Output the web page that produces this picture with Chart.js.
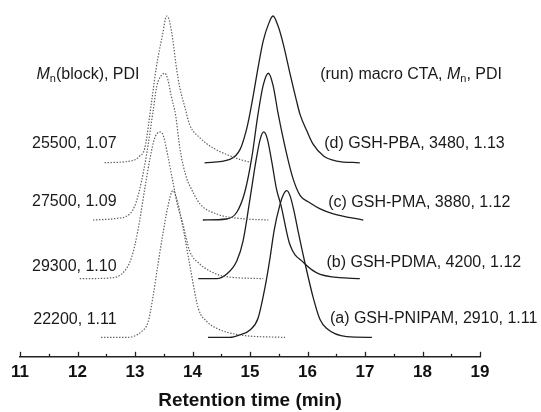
<!DOCTYPE html>
<html lang="en">
<head>
  <meta charset="UTF-8">
  <title>GPC traces</title>
  <script src="https://cdn.jsdelivr.net/npm/chart.js"></script>
  <style>
    html, body { margin: 0; padding: 0; background: #fff; }
    #wrap { width: 541px; height: 412px; }
  </style>
</head>
<body>
  <div id="wrap"><canvas id="gpc" width="541" height="412"></canvas></div>

  <script>
    // retention time (min) and normalised RI signal
    // block copolymers (dotted)
    const blockTimeD = [12.47, 12.97, 13.08, 13.17, 13.29, 13.37, 13.48, 13.55, 13.60, 13.66, 13.72, 13.78, 13.87, 13.95, 14.13, 14.36, 14.59, 14.82, 14.99];
    const blockSigD  = [0, 0.016, 0.045, 0.10, 0.42, 0.65, 0.875, 1.0, 0.966, 0.83, 0.65, 0.51, 0.375, 0.26, 0.17, 0.10, 0.057, 0.023, 0.005];
    const blockTimeC = [12.27, 12.65, 12.91, 13.02, 13.11, 13.20, 13.31, 13.38, 13.46, 13.52, 13.57, 13.63, 13.71, 13.78, 13.90, 13.95, 14.13, 14.42, 14.82, 15.32];
    const blockSigC  = [0, 0.01, 0.041, 0.121, 0.259, 0.443, 0.73, 0.913, 0.986, 1.0, 0.959, 0.844, 0.706, 0.489, 0.282, 0.236, 0.11, 0.041, 0.011, 0];
    const blockTimeB = [12.04, 12.62, 12.82, 12.94, 13.05, 13.17, 13.26, 13.34, 13.43, 13.49, 13.57, 13.66, 13.74, 13.84, 13.95, 14.13, 14.30, 14.53, 15.23];
    const blockSigB  = [0, 0.007, 0.053, 0.144, 0.327, 0.612, 0.818, 0.955, 1.0, 0.977, 0.84, 0.658, 0.50, 0.361, 0.19, 0.099, 0.053, 0.018, 0];
    const blockTimeA = [12.41, 12.85, 13.11, 13.23, 13.31, 13.40, 13.49, 13.56, 13.66, 13.74, 13.85, 13.95, 14.10, 14.25, 14.42, 14.82, 15.61];
    const blockSigA  = [0, 0, 0.039, 0.108, 0.27, 0.50, 0.717, 0.87, 1.0, 0.924, 0.717, 0.50, 0.20, 0.108, 0.062, 0.017, 0];

    // macro CTAs (solid)
    const ctaTimeD = [14.21, 14.65, 14.83, 14.94, 14.99, 15.06, 15.14, 15.23, 15.32, 15.40, 15.49, 15.58, 15.70, 15.81, 15.87, 15.99, 16.10, 16.28, 16.51, 16.91];
    const ctaSigD  = [0, 0.023, 0.093, 0.228, 0.318, 0.466, 0.648, 0.83, 0.943, 1.0, 0.93, 0.807, 0.60, 0.42, 0.33, 0.216, 0.125, 0.046, 0.012, 0];
    const ctaTimeC = [14.18, 14.59, 14.77, 14.91, 15.03, 15.14, 15.23, 15.32, 15.40, 15.49, 15.64, 15.75, 15.87, 16.04, 16.22, 16.45, 16.97];
    const ctaSigC  = [0, 0.007, 0.053, 0.191, 0.423, 0.723, 0.919, 1.0, 0.919, 0.723, 0.446, 0.28, 0.168, 0.118, 0.076, 0.042, 0];
    const ctaTimeB = [14.10, 14.42, 14.59, 14.77, 14.88, 15.00, 15.11, 15.18, 15.24, 15.30, 15.38, 15.46, 15.54, 15.69, 15.93, 16.22, 16.91];
    const ctaSigB  = [0, 0, 0.03, 0.121, 0.258, 0.544, 0.818, 0.955, 1.0, 0.955, 0.795, 0.612, 0.498, 0.236, 0.11, 0.03, 0];
    const ctaTimeA = [14.27, 14.65, 14.82, 15.00, 15.14, 15.26, 15.35, 15.42, 15.52, 15.58, 15.64, 15.70, 15.78, 15.84, 15.96, 16.10, 16.22, 16.33, 16.68, 17.12];
    const ctaSigA  = [0, 0, 0.017, 0.051, 0.131, 0.339, 0.546, 0.73, 0.903, 0.972, 1.0, 0.961, 0.834, 0.717, 0.50, 0.27, 0.12, 0.062, 0.005, 0];

    // vertical stacking of the runs a..d
    const runOffsets = { a: 0, b: 0.4, c: 0.8, d: 1.19 };

    const blockLabels = ['25500, 1.07', '27500, 1.09', '29300, 1.10', '22200, 1.11'];
    const ctaLabels = ['(d) GSH-PBA, 3480, 1.13', '(c) GSH-PMA, 3880, 1.12', '(b) GSH-PDMA, 4200, 1.12', '(a) GSH-PNIPAM, 2910, 1.11'];
    const xTicks = [11, 12, 13, 14, 15, 16, 17, 18, 19];

    function trace(times, sig, off) {
      return times.map((t, i) => ({ x: t, y: sig[i] + off }));
    }

    const dotted = { borderColor: '#5e5e5e', borderWidth: 1.2, borderDash: [1.4, 1.6] };
    const solid = { borderColor: '#1e1e1e', borderWidth: 1.3 };

    const datasets = [
      { data: trace(blockTimeD, blockSigD, runOffsets.d), ...dotted },
      { data: trace(blockTimeC, blockSigC, runOffsets.c), ...dotted },
      { data: trace(blockTimeB, blockSigB, runOffsets.b), ...dotted },
      { data: trace(blockTimeA, blockSigA, runOffsets.a), ...dotted },
      { data: trace(ctaTimeD, ctaSigD, runOffsets.d), ...solid },
      { data: trace(ctaTimeC, ctaSigC, runOffsets.c), ...solid },
      { data: trace(ctaTimeB, ctaSigB, runOffsets.b), ...solid },
      { data: trace(ctaTimeA, ctaSigA, runOffsets.a), ...solid }
    ];

    const FONT = '"Liberation Sans", Arial, sans-serif';

    // draws text made of pieces (normal / italic / subscript), left aligned
    function richText(ctx, parts, x, y) {
      let cx = x;
      parts.forEach(p => {
        if (p.sub) ctx.font = '11px ' + FONT;
        else if (p.it) ctx.font = 'italic 16px ' + FONT;
        else ctx.font = '16px ' + FONT;
        ctx.fillText(p.t, cx, y + (p.sub ? 5 : 0));
        cx += ctx.measureText(p.t).width;
      });
    }

    const annotate = {
      id: 'annotate',
      afterDraw(chart) {
        const ctx = chart.ctx;
        const xs = chart.scales.x, ys = chart.scales.y;
        const bottom = chart.chartArea.bottom;
        ctx.save();

        // inward ticks, majors and halves
        ctx.strokeStyle = '#222';
        ctx.lineWidth = 1.3;
        for (let v = 11; v <= 19.001; v += 0.5) {
          const px = Math.round(xs.getPixelForValue(v)) + 0.5;
          const len = Number.isInteger(v) ? 5 : 3;
          ctx.beginPath();
          ctx.moveTo(px, bottom);
          ctx.lineTo(px, bottom - len);
          ctx.stroke();
        }

        ctx.fillStyle = '#1a1a1a';
        ctx.textBaseline = 'middle';

        // left column
        const leftY = [1.32, 0.923, 0.484, 0.121];
        ctx.textAlign = 'right';
        ctx.font = '16px ' + FONT;
        blockLabels.forEach((s, i) => {
          ctx.fillText(s, xs.getPixelForValue(12.68), ys.getPixelForValue(leftY[i]));
        });
        ctx.textAlign = 'left';
        richText(ctx, [{ t: 'M', it: true }, { t: 'n', sub: true }, { t: '(block), PDI' }],
          xs.getPixelForValue(11.287), ys.getPixelForValue(1.793));

        // right column
        richText(ctx, [{ t: '(run) macro CTA, ' }, { t: 'M', it: true }, { t: 'n', sub: true }, { t: ', PDI' }],
          xs.getPixelForValue(16.22), ys.getPixelForValue(1.793));
        const rightX = [16.29, 16.36, 16.33, 16.39];
        const rightY = [1.322, 0.916, 0.507, 0.126];
        ctx.font = '16px ' + FONT;
        ctaLabels.forEach((s, i) => {
          ctx.fillText(s, xs.getPixelForValue(rightX[i]), ys.getPixelForValue(rightY[i]));
        });
        ctx.restore();
      }
    };

    new Chart(document.getElementById('gpc'), {
      type: 'line',
      data: { datasets: datasets },
      options: {
        responsive: false,
        animation: false,
        layout: { padding: { left: 20, right: 61, top: 5, bottom: 0 } },
        elements: {
          point: { radius: 0 },
          line: { cubicInterpolationMode: 'monotone', fill: false }
        },
        plugins: { legend: { display: false }, tooltip: { enabled: false } },
        scales: {
          x: {
            type: 'linear',
            min: 11,
            max: 19,
            afterBuildTicks: axis => { axis.ticks = xTicks.map(v => ({ value: v })); },
            grid: { display: false, drawTicks: false, tickLength: 0 },
            border: { display: true, color: '#222', width: 1.5 },
            ticks: {
              color: '#111',
              padding: 5,
              font: { family: FONT, size: 17, weight: 'bold' }
            },
            title: {
              display: true,
              text: 'Retention time (min)',
              color: '#111',
              padding: { top: 2, bottom: 0 },
              font: { family: FONT, size: 19, weight: 'bold' }
            }
          },
          y: { display: false, min: -0.132, max: 2.265 }
        }
      },
      plugins: [annotate]
    });
  </script>
</body>
</html>
